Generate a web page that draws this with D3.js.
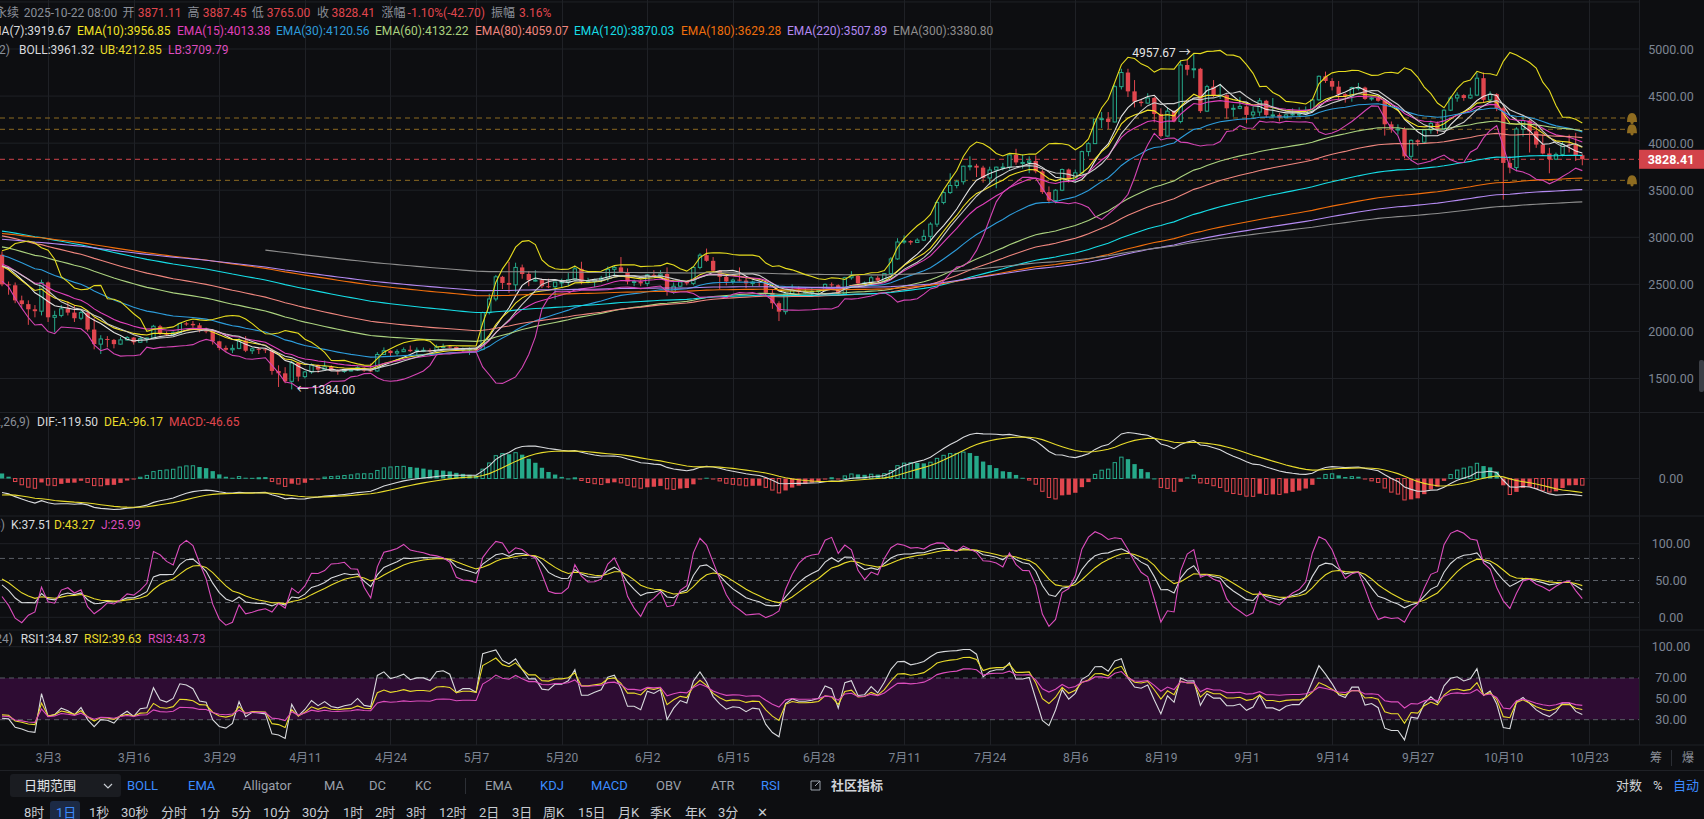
<!DOCTYPE html>
<html>
<head>
<meta charset="utf-8">
<script src="https://cdn.jsdelivr.net/npm/d3@7"></script>
<style>
html, body { margin: 0; background: #0d0e11; overflow: hidden; }
svg { display: block; font-family: Roboto, "Noto Sans CJK SC", sans-serif; }
</style>
</head>
<body>
<svg id="chart" width="1704" height="819"></svg>
<script>
// daily candles, 2025-02-24 .. 2025-10-22, [open, high, low, close]
const CANDLES = [
  [2815,2850,2480,2500],[2500,2530,2390,2490],[2490,2520,2300,2330],[2330,2380,2250,2290],[2290,2330,2070,2235],
  [2235,2280,2150,2215],[2215,2550,2170,2520],
  // Mar 3
  [2520,2530,2100,2150],[2150,2220,1990,2170],[2170,2280,2150,2240],[2240,2320,2170,2200],[2200,2280,2100,2140],
  [2140,2230,2120,2200],[2200,2210,2000,2020],[2020,2140,1810,1865],[1865,1960,1760,1920],[1920,1950,1830,1910],
  [1910,1920,1820,1865],[1865,1940,1860,1910],[1910,1950,1900,1935],
  // Mar 16
  [1935,1940,1860,1885],[1885,1950,1880,1925],[1925,1935,1880,1930],[1930,2070,1920,2055],[2055,2070,1960,1980],
  [1980,2000,1950,1965],[1965,2000,1960,1985],[1985,2090,1980,2085],[2085,2100,2060,2080],[2080,2110,2040,2065],
  [2065,2090,1990,2010],[2010,2040,1980,2005],[2005,2020,1860,1895],
  // Mar 29
  [1895,1900,1800,1825],[1825,1850,1780,1805],[1805,1860,1770,1820],[1820,1930,1810,1905],[1905,1950,1780,1795],
  [1795,1830,1760,1815],[1815,1830,1760,1810],[1810,1820,1770,1805],[1805,1820,1540,1580],[1580,1640,1410,1555],
  [1555,1620,1450,1470],[1470,1690,1384,1665],[1665,1670,1470,1520],
  // Apr 11
  [1520,1580,1500,1570],[1570,1660,1550,1645],[1645,1650,1560,1595],[1595,1690,1590,1625],[1625,1640,1580,1585],
  [1585,1600,1540,1575],[1575,1600,1560,1585],[1585,1600,1575,1590],[1590,1630,1580,1615],[1615,1620,1570,1585],
  [1585,1660,1570,1580],[1580,1780,1570,1755],[1755,1830,1750,1795],
  // Apr 24
  [1795,1800,1730,1770],[1770,1810,1740,1785],[1785,1830,1780,1805],[1805,1850,1780,1790],[1790,1830,1740,1800],
  [1800,1830,1780,1800],[1800,1820,1740,1795],[1795,1860,1790,1835],[1835,1870,1820,1840],[1840,1850,1820,1835],
  [1835,1840,1800,1805],[1805,1830,1780,1815],[1815,1830,1750,1815],
  // May 7
  [1815,1830,1780,1810],[1810,2210,1800,2200],[2200,2400,2180,2345],[2345,2600,2320,2580],[2580,2590,2450,2515],
  [2515,2740,2410,2495],[2495,2730,2420,2680],[2680,2710,2560,2610],[2610,2640,2480,2545],[2545,2650,2530,2545],
  [2545,2560,2460,2480],[2480,2560,2460,2475],[2475,2510,2340,2525],
  // May 20
  [2525,2560,2470,2525],[2525,2620,2480,2550],[2550,2700,2540,2665],[2665,2740,2500,2530],[2530,2570,2510,2530],
  [2530,2560,2470,2550],[2550,2590,2520,2565],[2565,2690,2530,2660],[2660,2700,2600,2680],[2680,2790,2620,2630],
  [2630,2670,2500,2530],[2530,2550,2480,2530],[2530,2550,2480,2510],
  // Jun 2
  [2510,2610,2480,2600],[2600,2650,2580,2590],[2590,2650,2580,2610],[2610,2680,2380,2420],[2420,2520,2400,2480],
  [2480,2530,2470,2525],[2525,2540,2490,2510],[2510,2690,2490,2680],[2680,2830,2660,2810],[2810,2880,2740,2750],
  [2750,2790,2630,2645],[2645,2650,2450,2580],[2580,2590,2490,2530],
  // Jun 15
  [2530,2560,2500,2545],[2550,2680,2530,2540],[2540,2580,2460,2510],[2510,2540,2480,2525],[2525,2540,2480,2520],
  [2520,2560,2380,2410],[2410,2440,2240,2300],[2300,2320,2110,2210],[2210,2420,2180,2400],[2400,2500,2380,2440],
  [2440,2480,2390,2420],[2420,2470,2400,2420],[2420,2460,2380,2425],
  // Jun 28
  [2425,2450,2410,2435],[2435,2510,2420,2500],[2500,2520,2460,2490],[2490,2500,2390,2400],[2400,2580,2400,2570],
  [2570,2640,2550,2590],[2590,2600,2480,2510],[2510,2530,2490,2515],[2515,2590,2500,2570],[2570,2590,2520,2540],
  [2540,2620,2520,2615],[2615,2790,2600,2770],[2770,2990,2760,2950],
  // Jul 11
  [2950,3020,2930,2960],[2960,2970,2920,2945],[2945,2990,2940,2970],[2970,3080,2960,3010],[3010,3160,2950,3140],
  [3140,3390,3110,3370],[3370,3510,3350,3475],[3475,3680,3460,3550],[3550,3610,3520,3590],[3590,3760,3560,3755],
  [3755,3860,3710,3760],[3760,3780,3640,3740],[3740,3760,3580,3630],
  // Jul 24
  [3630,3750,3560,3715],[3715,3750,3520,3745],[3745,3790,3710,3745],[3745,3880,3720,3875],[3875,3940,3770,3795],
  [3795,3880,3730,3795],[3795,3860,3680,3810],[3810,3870,3680,3700],[3700,3720,3460,3480],[3480,3540,3360,3390],
  [3390,3510,3360,3500],[3500,3730,3490,3720],[3720,3730,3580,3615],
  // Aug 6
  [3615,3720,3580,3685],[3685,3920,3670,3910],[3910,4010,3860,3995],[3995,4260,3990,4255],[4255,4330,4160,4260],
  [4260,4330,4150,4225],[4225,4620,4220,4600],[4600,4790,4570,4750],[4750,4790,4490,4550],[4550,4670,4380,4440],
  [4440,4470,4390,4425],[4425,4530,4420,4480],[4480,4490,4220,4310],
  // Aug 19
  [4310,4370,4060,4075],[4075,4380,4070,4340],[4340,4350,4220,4230],[4230,4880,4210,4830],[4830,4890,4720,4780],
  [4780,4957.67,4690,4790],[4790,4800,4320,4340],[4340,4620,4330,4600],[4600,4670,4490,4510],[4510,4630,4470,4510],
  [4510,4520,4260,4370],[4370,4410,4280,4370],[4370,4490,4360,4390],
  // Sep 1
  [4390,4400,4210,4300],[4300,4390,4260,4330],[4330,4480,4290,4450],[4450,4460,4270,4300],[4300,4480,4270,4300],
  [4300,4320,4230,4270],[4270,4310,4260,4300],[4300,4370,4290,4310],[4310,4380,4280,4310],[4310,4390,4300,4350],
  [4350,4470,4330,4460],[4460,4720,4450,4710],[4710,4760,4640,4660],
  // Sep 14
  [4660,4690,4560,4600],[4600,4660,4460,4520],[4520,4530,4430,4500],[4500,4600,4440,4590],[4590,4640,4560,4590],
  [4590,4600,4460,4470],[4470,4490,4450,4480],[4480,4500,4440,4450],[4450,4460,4080,4200],[4200,4230,4110,4150],
  [4150,4200,4090,4150],[4150,4170,3840,3860],[3860,4040,3820,4030],
  // Sep 27
  [4030,4040,3970,4010],[4010,4140,3990,4140],[4140,4240,4100,4210],[4210,4230,4100,4150],[4150,4360,4140,4350],
  [4350,4500,4340,4480],[4480,4540,4440,4510],[4510,4520,4450,4480],[4480,4590,4470,4510],[4510,4750,4500,4690],
  [4690,4750,4430,4460],[4460,4550,4430,4520],[4520,4530,4340,4370],
  // Oct 10
  [4370,4390,3400,3790],[3790,3860,3680,3740],[3740,4170,3700,4150],[4150,4280,4070,4240],[4240,4250,3900,4125],
  [4125,4210,3950,3985],[3985,4090,3880,3890],[3890,3950,3680,3830],[3830,3900,3820,3880],[3880,4020,3860,3985],
  [3985,4090,3900,3980],[3980,4110,3810,3871.11],[3871.11,3887.45,3765,3828.41]
];

// the 30 days before the view, [high, low, close]; estimated so the
// window based indicators at the left edge start where the picture shows them
const LEAD = [
  [3350,3280,3320],[3370,3300,3310],[3330,3020,3180],[3250,3050,3080],[3170,3050,3110],[3280,3100,3250],
  [3440,3250,3300],[3330,3110,3130],[3170,2750,2860],[2930,2120,2880],[2880,2650,2730],[2830,2690,2790],
  [2860,2650,2690],[2800,2560,2630],[2660,2560,2630],[2700,2520,2630],[2690,2570,2660],[2720,2570,2600],
  [2790,2550,2740],[2760,2620,2680],[2790,2680,2720],[2730,2680,2690],[2720,2640,2660],[2850,2640,2745],
  [2760,2600,2670],[2730,2650,2720],[2770,2700,2740],[2850,2620,2660],[2780,2650,2760],[2850,2740,2815]
];

// long EMAs: value on the day before the view
const LONG_PERIODS = [30, 60, 80, 120, 180, 220];
const LONG_SEEDS = [2830, 2912, 3028, 3075, 3046, 2983];
const EMA300_FIRST_BAR = 40;
const EMA300_FIRST_VALUE = 2864;
const BOLL_N = 10, BOLL_K = 2;

const LAST_PRICE = 3828.41;
const ALERT_PRICES = [4267, 4147, 3605];
const HIGH_BAR = 181, HIGH_TEXT = "4957.67 →";
const LOW_BAR = 44, LOW_TEXT = "← 1384.00";

const X_TICKS = ["3月3","3月16","3月29","4月11","4月24","5月7","5月20","6月2","6月15","6月28",
  "7月11","7月24","8月6","8月19","9月1","9月14","9月27","10月10","10月23"];
const PRICE_TICKS = [1500, 2000, 2500, 3000, 3500, 4000, 4500, 5000, 5500];
const KDJ_TICKS = [0, 50, 100];
const RSI_TICKS = [30, 50, 70, 100];

// colours
const BG = "#0d0e11", GRID = "#1f2126", AXIS_TXT = "#7d8593", LBL = "#8a8f98";
const UP = "#26a98a", DOWN = "#e0464e";
const WHITE = "#d8dadd", YELLOW = "#e9dc2b", PINK = "#dc4dbd";
const EMA_COLORS = { 10: "#f2e225", 15: "#e040bb", 30: "#2d9cdb", 60: "#abd27f", 80: "#f0877f",
  120: "#16dde6", 180: "#f06e0c", 220: "#b48af2", 300: "#8d8d8d" };

// legend texts as shown
const ROW1 = [["ETHUSDT 永续", LBL, 19, "end"], ["2025-10-22 08:00", LBL, 23.7], ["开", LBL, 122.5], ["3871.11", DOWN, 137.8],
  ["高", LBL, 187.5], ["3887.45", DOWN, 202.8], ["低", LBL, 251.8], ["3765.00", DOWN, 266.7],
  ["收", LBL, 316.9], ["3828.41", DOWN, 331.4], ["涨幅", LBL, 381.6], ["-1.10%(-42.70)", DOWN, 407.6],
  ["振幅", LBL, 491], ["3.16%", DOWN, 519]];
const ROW2 = [["MA(7):3919.67", WHITE, 71, "end"], ["EMA(10):3956.85", EMA_COLORS[10], 77],
  ["EMA(15):4013.38", EMA_COLORS[15], 177], ["EMA(30):4120.56", EMA_COLORS[30], 276],
  ["EMA(60):4132.22", EMA_COLORS[60], 375], ["EMA(80):4059.07", EMA_COLORS[80], 475],
  ["EMA(120):3870.03", EMA_COLORS[120], 574], ["EMA(180):3629.28", EMA_COLORS[180], 681],
  ["EMA(220):3507.89", EMA_COLORS[220], 787], ["EMA(300):3380.80", EMA_COLORS[300], 893]];
const ROW3 = [["BOLL(10,2)", LBL, 10, "end"], ["BOLL:3961.32", WHITE, 19], ["UB:4212.85", YELLOW, 100], ["LB:3709.79", PINK, 168]];
const MACD_ROW = [["MACD(12,26,9)", LBL, 30, "end"], ["DIF:-119.50", WHITE, 37], ["DEA:-96.17", YELLOW, 104], ["MACD:-46.65", DOWN, 169]];
const KDJ_ROW = [["KDJ(9,3,3)", LBL, 5, "end"], ["K:37.51", WHITE, 11], ["D:43.27", YELLOW, 54], ["J:25.99", PINK, 101]];
const RSI_ROW = [["RSI(6,12,24)", LBL, 13, "end"], ["RSI1:34.87", WHITE, 20.7], ["RSI2:39.63", YELLOW, 84], ["RSI3:43.73", PINK, 148]];

const TOOL_ROW1 = [["BOLL", 127, 1], ["EMA", 188, 1], ["Alligator", 243, 0], ["MA", 324, 0], ["DC", 369, 0], ["KC", 415, 0],
  ["EMA", 485, 0], ["KDJ", 540, 1], ["MACD", 591, 1], ["OBV", 656, 0], ["ATR", 711, 0], ["RSI", 761, 1],
  ["社区指标", 831, 2], ["对数", 1616, 2], ["%", 1653, 2], ["自动", 1673, 1]];
const TOOL_ROW2 = [["8时", 24], ["1日", 56], ["1秒", 89], ["30秒", 121], ["分时", 161], ["1分", 200], ["5分", 231],
  ["10分", 263], ["30分", 302], ["1时", 343], ["2时", 375], ["3时", 406], ["12时", 439], ["2日", 479], ["3日", 512],
  ["周K", 543], ["15日", 578], ["月K", 618], ["季K", 650], ["年K", 685], ["3分", 718], ["✕", 757]];

// ---------- layout ----------
const W = 1704, PLOT_R = 1639;
const MAIN_TOP = 0, MAIN_BOT = 412.5, MACD_BOT = 516, KDJ_BOT = 630, RSI_BOT = 745;

const svg = d3.select("#chart");
svg.append("rect").attr("width", W).attr("height", 819).attr("fill", BG);

const N = CANDLES.length;
const day0 = new Date(Date.UTC(2025, 1, 24));
const dates = CANDLES.map((_, i) => d3.utcDay.offset(day0, i));
const x = d3.scaleUtc().domain([dates[0], dates[N - 1]]).range([2, 1582.3]);
const step = x(dates[1]) - x(dates[0]);
const bw = step * 0.66;
const tickDates = X_TICKS.map(s => { const [m, d] = s.split("月").map(Number); return new Date(Date.UTC(2025, m - 1, d)); });

const y = d3.scaleLinear().domain([1500, 5000]).range([378.5, 49]);
const yK = d3.scaleLinear().domain([0, 100]).range([617.3, 543.7]);
const yR = d3.scaleLinear().domain([30, 100]).range([719.7, 646.7]);

// ---------- indicators ----------
const Lh = LEAD.length;
const closes = LEAD.map(d => d[2]).concat(CANDLES.map(d => d[3]));
const highs = LEAD.map(d => d[0]).concat(CANDLES.map(d => d[1]));
const lows = LEAD.map(d => d[1]).concat(CANDLES.map(d => d[2]));

function ema(src, n, start, seed) {
  const a = 2 / (n + 1), out = src.map(() => null);
  let v = seed;
  for (let i = start; i < src.length; i++) {
    v = i === start ? seed : a * src[i] + (1 - a) * v;
    out[i] = v;
  }
  return out;
}
function sma(src, n) {
  return src.map((_, i) => i < n - 1 ? null : d3.mean(src.slice(i - n + 1, i + 1)));
}
const vis = arr => arr.slice(Lh);

const lines = [];
lines.push({ v: vis(sma(closes, 7)), c: "#e4e4e4" });
lines.push({ v: vis(ema(closes, 10, 0, closes[0])), c: EMA_COLORS[10] });
lines.push({ v: vis(ema(closes, 15, 0, closes[0])), c: EMA_COLORS[15] });
LONG_PERIODS.forEach((p, k) => lines.push({ v: vis(ema(closes, p, Lh - 1, LONG_SEEDS[k])), c: EMA_COLORS[p] }));
lines.push({ v: vis(ema(closes, 300, Lh + EMA300_FIRST_BAR, EMA300_FIRST_VALUE)), c: EMA_COLORS[300] });

// bollinger
const mid = sma(closes, BOLL_N);
const sd = closes.map((_, i) => i < BOLL_N - 1 ? null :
  Math.sqrt(d3.mean(closes.slice(i - BOLL_N + 1, i + 1), c => (c - mid[i]) ** 2)));
lines.push({ v: vis(mid), c: "#c9c9c9" });
lines.push({ v: vis(mid.map((m, i) => m == null ? null : m + BOLL_K * sd[i])), c: "#e6dc1e" });
lines.push({ v: vis(mid.map((m, i) => m == null ? null : m - BOLL_K * sd[i])), c: "#d445b4" });

// macd 12, 26, 9
const e12 = ema(closes, 12, 0, closes[0]), e26 = ema(closes, 26, 0, closes[0] + 40);
const difAll = e12.map((v, i) => v - e26[i]);
const deaAll = ema(difAll, 9, 0, -30);
const dif = vis(difAll), dea = vis(deaAll);
const hist = dif.map((v, i) => 2 * (v - dea[i]));

// kdj 9, 3, 3
let kv = 50, dv = 50;
const K = [], D = [], J = [];
closes.forEach((c, i) => {
  const hh = d3.max(highs.slice(Math.max(0, i - 8), i + 1)), ll = d3.min(lows.slice(Math.max(0, i - 8), i + 1));
  const rsv = hh === ll ? 50 : (c - ll) / (hh - ll) * 100;
  kv = (2 * kv + rsv) / 3; dv = (2 * dv + kv) / 3;
  K.push(kv); D.push(dv); J.push(3 * kv - 2 * dv);
});

// rsi 6, 12, 24
function rsi(n) {
  let u = 0, a = 0;
  return closes.map((c, i) => {
    if (i === 0) return 50;
    const d = c - closes[i - 1];
    if (i === 1) { u = Math.max(d, 0); a = Math.abs(d); }
    else { u = (u * (n - 1) + Math.max(d, 0)) / n; a = (a * (n - 1) + Math.abs(d)) / n; }
    return a === 0 ? 50 : u / a * 100;
  });
}

// ---------- clips ----------
const defs = svg.append("defs");
[["cMain", MAIN_TOP, MAIN_BOT], ["cMacd", MAIN_BOT, MACD_BOT], ["cKdj", MACD_BOT, KDJ_BOT], ["cRsi", KDJ_BOT, RSI_BOT]]
  .forEach(([id, t, b]) => defs.append("clipPath").attr("id", id).append("rect")
    .attr("x", 0).attr("y", t).attr("width", PLOT_R).attr("height", b - t));

// ---------- grid ----------
const grid = svg.append("g").attr("stroke", GRID).attr("stroke-width", 1);
grid.selectAll("line.v").data(tickDates).join("line")
  .attr("x1", d => Math.round(x(d)) + 0.5).attr("x2", d => Math.round(x(d)) + 0.5).attr("y1", 0).attr("y2", RSI_BOT);
grid.selectAll("line.h").data(PRICE_TICKS).join("line")
  .attr("x1", 0).attr("x2", PLOT_R).attr("y1", d => y(d)).attr("y2", d => y(d));
[MAIN_BOT, MACD_BOT, KDJ_BOT, RSI_BOT, 770.5].forEach(v => grid.append("line").attr("x1", 0).attr("x2", W).attr("y1", v).attr("y2", v));
[yK(100), yK(0), yR(100)].forEach(v => grid.append("line").attr("x1", 0).attr("x2", PLOT_R).attr("y1", v).attr("y2", v));
grid.append("line").attr("x1", PLOT_R + 0.5).attr("x2", PLOT_R + 0.5).attr("y1", 0).attr("y2", RSI_BOT);

// ---------- main pane ----------
const gMain = svg.append("g").attr("clip-path", "url(#cMain)");

// alert lines and the last price line
gMain.selectAll("line.alert").data(ALERT_PRICES).join("line")
  .attr("x1", 0).attr("x2", 1626).attr("y1", d => y(d)).attr("y2", d => y(d))
  .attr("stroke", "#8c6a22").attr("stroke-dasharray", "5,4");
gMain.append("line").attr("x1", 0).attr("x2", PLOT_R).attr("y1", y(LAST_PRICE)).attr("y2", y(LAST_PRICE))
  .attr("stroke", "#d2434a").attr("stroke-dasharray", "5,4");

// candles
const cg = gMain.append("g");
cg.selectAll("line").data(CANDLES).join("line")
  .attr("x1", (d, i) => x(dates[i])).attr("x2", (d, i) => x(dates[i]))
  .attr("y1", d => y(d[1])).attr("y2", d => y(d[2]))
  .attr("stroke", d => d[3] >= d[0] ? UP : DOWN).attr("stroke-width", 1);
cg.selectAll("rect").data(CANDLES).join("rect")
  .attr("x", (d, i) => x(dates[i]) - bw / 2 + (d[3] >= d[0] ? 0.5 : 0))
  .attr("y", d => y(Math.max(d[0], d[3])))
  .attr("width", d => d[3] >= d[0] ? bw - 1 : bw)
  .attr("height", d => Math.max(1, Math.abs(y(d[0]) - y(d[3]))))
  .attr("fill", d => d[3] >= d[0] ? BG : DOWN)
  .attr("stroke", d => d[3] >= d[0] ? UP : "none").attr("stroke-width", 1);

// indicator lines
const lineGen = d3.line().defined(v => v != null).x((v, i) => x(dates[i])).y(v => y(v));
gMain.selectAll("path.ind").data(lines).join("path")
  .attr("d", d => lineGen(d.v)).attr("fill", "none").attr("stroke", d => d.c).attr("stroke-width", 1.1);

// high / low markers
svg.append("text").attr("x", x(dates[HIGH_BAR]) - 3).attr("y", y(CANDLES[HIGH_BAR][1]) + 4)
  .attr("text-anchor", "end").attr("fill", "#e6e6e6").attr("font-size", 12).text(HIGH_TEXT);
svg.append("text").attr("x", x(dates[LOW_BAR]) + 5).attr("y", y(CANDLES[LOW_BAR][2]) + 5)
  .attr("fill", "#e6e6e6").attr("font-size", 12).text(LOW_TEXT);

// price axis
const yAxis = svg.append("g").attr("transform", `translate(${PLOT_R},0)`)
  .call(d3.axisRight(y).tickValues(PRICE_TICKS.filter(v => v <= 5000)).tickSize(0).tickFormat(d3.format(".2f")));
yAxis.select(".domain").remove();
yAxis.selectAll("text").attr("x", 32).attr("text-anchor", "middle").attr("fill", AXIS_TXT)
  .attr("font-size", 12.5).attr("font-family", "Roboto");

// alert bells
const bells = svg.append("g").attr("fill", "#8f6c20");
ALERT_PRICES.forEach(p => {
  bells.append("path").attr("d", `M${1627},${y(p) + 4} q0,-9 5,-9 q5,0 5,9 z`);
  bells.append("circle").attr("cx", 1632).attr("cy", y(p) + 4.5).attr("r", 1.6);
});

// last price tag
svg.append("rect").attr("x", PLOT_R).attr("y", y(LAST_PRICE) - 9.5).attr("width", W - PLOT_R).attr("height", 19).attr("fill", "#d2434a");
svg.append("text").attr("x", 1671).attr("y", y(LAST_PRICE) + 4.5).attr("text-anchor", "middle")
  .attr("fill", "#fff").attr("font-size", 12.5).attr("font-weight", 700).text(LAST_PRICE.toFixed(2));

// ---------- macd pane ----------
const ext = d3.extent(dif.concat(dea, hist));
const yM = d3.scaleLinear().domain(ext).range([509.5, 432.5]);
const gMacd = svg.append("g").attr("clip-path", "url(#cMacd)");
gMacd.append("line").attr("x1", 0).attr("x2", PLOT_R).attr("y1", yM(0)).attr("y2", yM(0)).attr("stroke", GRID);
gMacd.selectAll("rect").data(hist).join("rect")
  .each(function (h, i) {
    const grow = i > 0 && Math.abs(h) > Math.abs(hist[i - 1]);
    const col = h >= 0 ? UP : DOWN;
    const top = Math.min(yM(h), yM(0)), ht = Math.max(1, Math.abs(yM(h) - yM(0)));
    d3.select(this)
      .attr("x", x(dates[i]) - bw / 2 + (grow ? 0.5 : 0)).attr("width", grow ? bw - 1 : bw)
      .attr("y", top).attr("height", ht)
      .attr("fill", grow ? "none" : col).attr("stroke", grow ? col : "none");
  });
const lineM = d3.line().x((v, i) => x(dates[i])).y(v => yM(v));
gMacd.append("path").attr("d", lineM(dif)).attr("fill", "none").attr("stroke", WHITE).attr("stroke-width", 1.1);
gMacd.append("path").attr("d", lineM(dea)).attr("fill", "none").attr("stroke", YELLOW).attr("stroke-width", 1.1);
svg.append("text").attr("x", 1671).attr("y", yM(0) + 4.5).attr("text-anchor", "middle")
  .attr("fill", AXIS_TXT).attr("font-size", 12.5).text("0.00");

// ---------- kdj pane ----------
const gKdj = svg.append("g").attr("clip-path", "url(#cKdj)");
gKdj.selectAll("line.d").data([20, 50, 80]).join("line")
  .attr("x1", 0).attr("x2", PLOT_R).attr("y1", d => yK(d)).attr("y2", d => yK(d))
  .attr("stroke", "#5b5f67").attr("stroke-dasharray", "5,4");
const lineK = d3.line().x((v, i) => x(dates[i])).y(v => yK(v));
[[vis(K), WHITE], [vis(D), YELLOW], [vis(J), PINK]].forEach(([v, c]) =>
  gKdj.append("path").attr("d", lineK(v)).attr("fill", "none").attr("stroke", c).attr("stroke-width", 1.1));
svg.selectAll("text.kt").data(KDJ_TICKS).join("text").attr("x", 1671).attr("y", d => yK(d) + 4.5)
  .attr("text-anchor", "middle").attr("fill", AXIS_TXT).attr("font-size", 12.5).text(d => d.toFixed(2));

// ---------- rsi pane ----------
const gRsi = svg.append("g").attr("clip-path", "url(#cRsi)");
gRsi.append("rect").attr("x", 0).attr("width", PLOT_R).attr("y", yR(70)).attr("height", yR(30) - yR(70)).attr("fill", "#2e0c33");
gRsi.selectAll("line.d").data([30, 70]).join("line")
  .attr("x1", 0).attr("x2", PLOT_R).attr("y1", d => yR(d)).attr("y2", d => yR(d))
  .attr("stroke", "#5b5f67").attr("stroke-dasharray", "5,4");
const lineR = d3.line().x((v, i) => x(dates[i])).y(v => yR(v));
[[vis(rsi(6)), WHITE], [vis(rsi(12)), YELLOW], [vis(rsi(24)), PINK]].forEach(([v, c]) =>
  gRsi.append("path").attr("d", lineR(v)).attr("fill", "none").attr("stroke", c).attr("stroke-width", 1.1));
svg.selectAll("text.rt").data(RSI_TICKS).join("text").attr("x", 1671).attr("y", d => yR(d) + 4.5)
  .attr("text-anchor", "middle").attr("fill", AXIS_TXT).attr("font-size", 12.5).text(d => d.toFixed(2));

// ---------- time axis ----------
const xAxis = svg.append("g").attr("transform", `translate(0,${RSI_BOT})`)
  .call(d3.axisBottom(x).tickValues(tickDates).tickSize(0).tickFormat((d, i) => X_TICKS[i]));
xAxis.select(".domain").remove();
xAxis.selectAll("text").attr("y", 8).attr("fill", AXIS_TXT).attr("font-size", 12)
  .attr("font-family", "Roboto, 'Noto Sans CJK SC'");
svg.append("text").attr("x", 1650).attr("y", 762).attr("fill", LBL).attr("font-size", 12).text("筹");
svg.append("text").attr("x", 1682).attr("y", 762).attr("fill", LBL).attr("font-size", 12).text("爆");
svg.append("line").attr("x1", 1671.5).attr("x2", 1671.5).attr("y1", 750).attr("y2", 766).attr("stroke", "#2a2d33");

// ---------- legends ----------
function legend(items, yy) {
  items.forEach(([t, c, xx, anchor]) => svg.append("text").attr("x", xx).attr("y", yy)
    .attr("text-anchor", anchor || "start").attr("fill", c).attr("font-size", 12).text(t));
}
legend(ROW1, 16.5);
legend(ROW2, 35);
legend(ROW3, 54);
legend(MACD_ROW, 425.5);
legend(KDJ_ROW, 528.5);
legend(RSI_ROW, 642.5);

// scrollbar thumb
svg.append("rect").attr("x", 1699).attr("y", 360).attr("width", 5).attr("height", 32).attr("rx", 2).attr("fill", "#3b3e45");

// ---------- toolbar ----------
svg.append("rect").attr("x", 10).attr("y", 774).attr("width", 111).attr("height", 23).attr("rx", 3).attr("fill", "#1a1c21");
svg.append("text").attr("x", 24).attr("y", 790).attr("fill", "#e2e4e8").attr("font-size", 13).text("日期范围");
svg.append("path").attr("d", "M104,784 l4,4 l4,-4").attr("fill", "none").attr("stroke", "#c8ccd2").attr("stroke-width", 1.2);
const TOOL_COL = ["#9aa0aa", "#3b8bff", "#d0d3d8"];
TOOL_ROW1.forEach(([t, xx, k]) => svg.append("text").attr("x", xx).attr("y", 790).attr("fill", TOOL_COL[k])
  .attr("font-size", 13).attr("font-weight", t === "社区指标" ? 600 : 400).text(t));
svg.append("line").attr("x1", 465.5).attr("x2", 465.5).attr("y1", 778).attr("y2", 794).attr("stroke", "#2c2f35");
svg.append("path").attr("d", "M811,781 h9 v9 h-9 z M815,786 l5,-5").attr("fill", "none").attr("stroke", "#9aa0aa").attr("stroke-width", 1);
svg.append("rect").attr("x", 50).attr("y", 801).attr("width", 30).attr("height", 22).attr("rx", 3).attr("fill", "#1c2a45");
TOOL_ROW2.forEach(([t, xx]) => svg.append("text").attr("x", xx).attr("y", 817)
  .attr("fill", t === "1日" ? "#3b8bff" : "#c8ccd2").attr("font-size", 13).text(t));
</script>
</body>
</html>
